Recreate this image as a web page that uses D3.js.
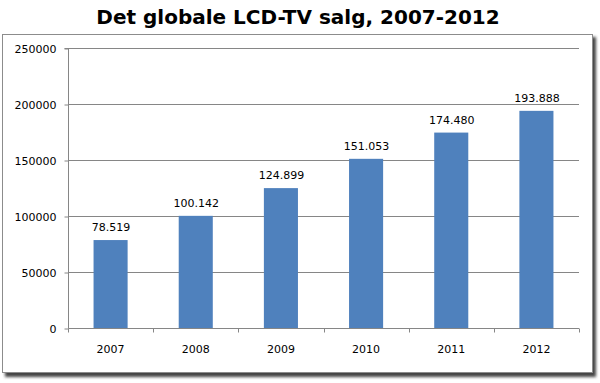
<!DOCTYPE html>
<html><head><meta charset="utf-8">
<script src="https://cdn.jsdelivr.net/npm/d3@7"></script>
<style>html,body{margin:0;padding:0;background:#fff;}svg{display:block;}</style>
</head><body>
<script>
const years = ["2007","2008","2009","2010","2011","2012"];
const sales = [78519, 100142, 124899, 151053, 174480, 193888];
const salesLabels = ["78.519","100.142","124.899","151.053","174.480","193.888"];
const yTicks = [0, 50000, 100000, 150000, 200000, 250000];
const title = "Det globale LCD-TV salg, 2007-2012";

const W = 600, H = 383;
const svg = d3.select("body").append("svg").attr("width", W).attr("height", H);
const defs = svg.append("defs");
const f = defs.append("filter").attr("id","sh").attr("x","-10%").attr("y","-10%").attr("width","120%").attr("height","120%");
f.append("feGaussianBlur").attr("stdDeviation", 1.5);

// frame with shadow
svg.append("rect").attr("x", 5).attr("y", 37).attr("width", 591).attr("height", 340)
  .attr("fill", "#444").attr("filter", "url(#sh)");
svg.append("rect").attr("x", 2.5).attr("y", 34.5).attr("width", 590).attr("height", 338)
  .attr("fill", "#fff").attr("stroke", "#8c8c8c").attr("stroke-width", 1);

svg.append("text").attr("x", 298).attr("y", 24).attr("text-anchor", "middle")
  .attr("font-family", "DejaVu Sans, Verdana, sans-serif").attr("font-weight", "bold")
  .attr("font-size", 20).attr("fill", "#000").text(title);

const x0 = 68, x1 = 579, yTop = 48, yBot = 328;
const x = d3.scaleBand().domain(years).range([x0, x1]).padding(0);
const y = d3.scaleLinear().domain([0, 250000]).range([yBot, yTop]);

const g = svg.append("g").attr("font-family", "DejaVu Sans, Verdana, sans-serif").attr("font-size", 11);

// gridlines
g.selectAll(".grid").data(yTicks.filter(d => d > 0)).join("line")
  .attr("x1", x0).attr("x2", x1)
  .attr("y1", d => Math.round(y(d)) + 0.5).attr("y2", d => Math.round(y(d)) + 0.5)
  .attr("stroke", "#868686").attr("stroke-width", 1);

// bars
const bw = x.bandwidth() * 0.4;
g.selectAll(".bar").data(sales).join("rect")
  .attr("x", (d, i) => x(years[i]) + (x.bandwidth() - bw) / 2)
  .attr("width", bw)
  .attr("y", d => y(d))
  .attr("height", d => yBot - y(d))
  .attr("fill", "#4f81bd");

// value labels
g.selectAll(".val").data(sales).join("text")
  .attr("x", (d, i) => x(years[i]) + x.bandwidth() / 2 + 0.5)
  .attr("y", d => y(d) - 9)
  .attr("text-anchor", "middle").attr("fill", "#000")
  .text((d, i) => salesLabels[i]);

// y axis
const yAxis = d3.axisLeft(y).tickValues(yTicks).tickSize(4).tickPadding(8).tickFormat(d3.format("d"));
const ya = svg.append("g").attr("transform", `translate(${x0 + 0.5},0.5)`).call(yAxis);
ya.select(".domain").attr("stroke", "#868686").attr("d", `M-4,${yTop}H0V${yBot}`);
ya.selectAll(".tick line").attr("stroke", "#868686");
ya.selectAll("text").attr("font-family", "DejaVu Sans, Verdana, sans-serif").attr("font-size", 11).attr("fill", "#000");

// x axis
const xa = svg.append("g").attr("transform", `translate(0,${yBot + 0.5})`)
  .call(d3.axisBottom(x).tickSize(0).tickPadding(17));
xa.select(".domain").attr("stroke", "#868686").attr("d", `M${x0 + 0.5},0H${x1}`);
xa.selectAll("text").attr("font-family", "DejaVu Sans, Verdana, sans-serif").attr("font-size", 11).attr("fill", "#000");
// category boundary ticks
const bounds = years.map(d => x(d)).concat([x1]);
xa.selectAll(".bt").data(bounds).join("line")
  .attr("x1", d => Math.round(d) + 0.5).attr("x2", d => Math.round(d) + 0.5)
  .attr("y1", 0).attr("y2", 4).attr("stroke", "#868686");
</script>
</body></html>
